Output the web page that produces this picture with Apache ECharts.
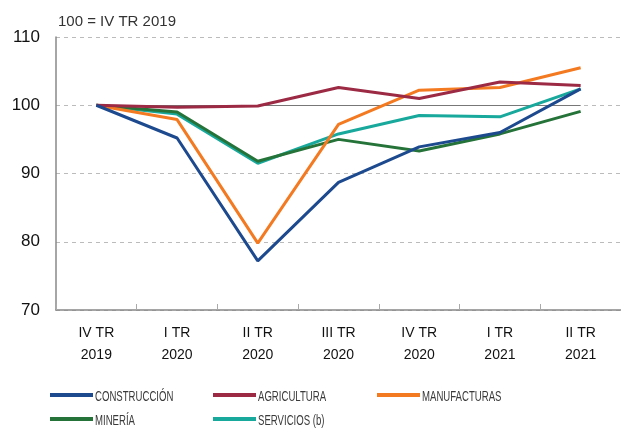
<!DOCTYPE html>
<html><head><meta charset="utf-8">
<script src="https://cdn.jsdelivr.net/npm/echarts@6/dist/echarts.min.js"></script>
<style>html,body{margin:0;padding:0;background:#fff}#c{width:621px;height:428px}</style>
</head><body><div id="c"></div>
<script>
var categories = ['IV TR\n2019','I TR\n2020','II TR\n2020','III TR\n2020','IV TR\n2020','I TR\n2021','II TR\n2021'];
var construccion = [100, 95.2, 77.2, 88.7, 93.9, 96.0, 102.4];
var agricultura = [100, 99.7, 99.9, 102.6, 101.0, 103.4, 102.9];
var manufacturas = [100, 97.9, 79.8, 97.2, 102.2, 102.6, 105.5];
var mineria = [100, 99.0, 91.8, 95.0, 93.3, 95.8, 99.1];
var servicios = [100, 98.7, 91.5, 95.8, 98.5, 98.3, 102.4];
var yTicks = [70, 80, 90, 100, 110];

var names = ['CONSTRUCCIÓN','AGRICULTURA','MANUFACTURAS','MINERÍA','SERVICIOS (b)'];
var colors = ['#1d4a8f','#9c2a44','#f47a22','#26733a','#18a89c'];
var datas = [construccion, agricultura, manufacturas, mineria, servicios];
var legendPos = [[45,397],[208,397],[372,397],[45,421],[208,421]];

var series = names.map(function(n,i){
  return {name:n, type:'line', data:datas[i], symbol:'none', z: 10 - i,
    lineStyle:{color:colors[i], width:3}, itemStyle:{color:colors[i]}};
});
series[0].markLine = {silent:true, symbol:'none', label:{show:false},
  lineStyle:{color:'#777', type:'solid', width:1},
  data:[[{coord:[0,100]},{coord:[6,100]}]]};

var legends = names.map(function(n,i){
  return {data:[n], left:legendPos[i][0], top:legendPos[i][1]-9, icon:'rect', itemWidth:43, itemHeight:4, itemGap:0,
    formatter:function(){return '';},
    textStyle:{fontSize:14, padding:0}};
});
var graphics = names.map(function(n,i){
  return {type:'text', x:legendPos[i][0]+50, y:legendPos[i][1], scaleX:0.64, silent:true,
    style:{text:n, fill:'#3a3a3a', font:'15px "Liberation Sans", Arial, sans-serif', textVerticalAlign:'middle', verticalAlign:'middle'}};
});

var chart = echarts.init(document.getElementById('c'));
chart.setOption({
  animation:false,
  title:{text:'100 = IV TR 2019', left:53, top:9, textStyle:{color:'#333', fontSize:15, fontWeight:'normal', fontFamily:'Liberation Sans, sans-serif'}},
  legend: legends,
  graphic: graphics,
  grid:{left:56, right:0, top:37, bottom:118},
  xAxis:{type:'category', data:categories, boundaryGap:true,
    axisLine:{lineStyle:{color:'#888', width:1.5}},
    axisTick:{show:true, inside:true, length:6, lineStyle:{color:'#aaa'}},
    axisLabel:{color:'#111', fontSize:14, margin:12, lineHeight:22, fontFamily:'Liberation Sans, sans-serif'}},
  yAxis:{type:'value', min:yTicks[0], max:yTicks[yTicks.length-1], interval:10,
    axisLine:{show:true, lineStyle:{color:'#888', width:1.5}},
    axisTick:{show:false},
    splitLine:{lineStyle:{color:'#bbb', type:[4,4], width:1}},
    axisLabel:{color:'#111', fontSize:17, margin:16, fontFamily:'Liberation Sans, sans-serif'}},
  series: series
});
</script></body></html>
